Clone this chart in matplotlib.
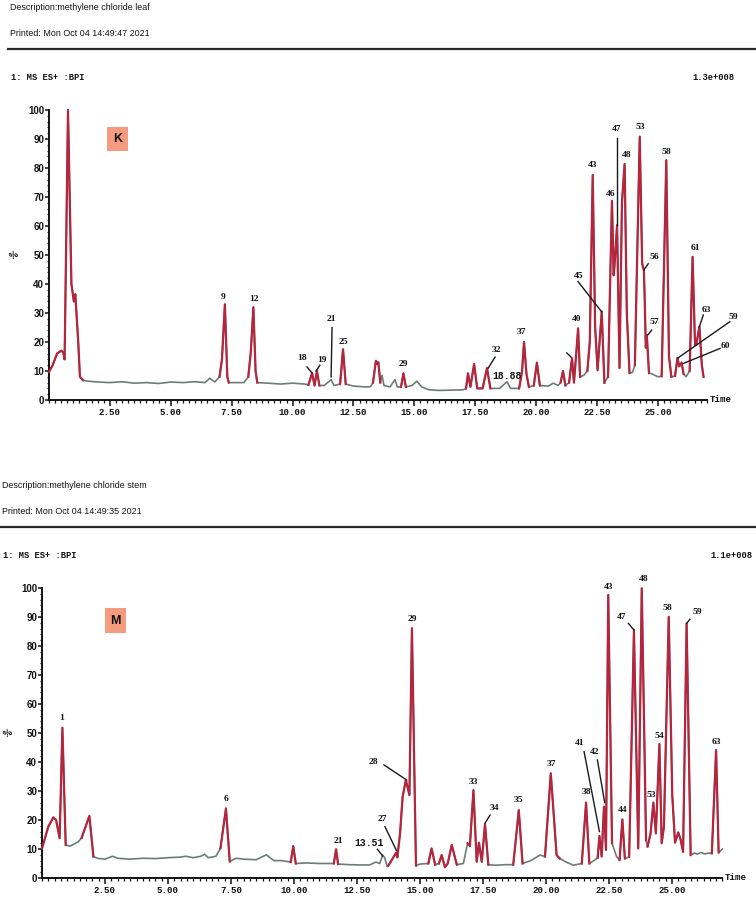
import matplotlib.pyplot as plt
import numpy as np
from matplotlib.ticker import MultipleLocator
from matplotlib.patches import Rectangle

# colours
C_RED = '#b3263d'
C_GREY = '#6e7c79'
C_INK = '#111111'
C_BOX = '#f59c80'

HEAD_FONT = ['Liberation Sans', 'DejaVu Sans']
MONO_FONT = ['Liberation Mono', 'DejaVu Sans Mono']
NUM_FONT = ['Liberation Serif', 'DejaVu Serif']

# ---- leaf chromatogram (K) : retention time (min), relative intensity (%)
leaf_t = [0.0, 0.15, 0.33, 0.5, 0.58, 0.64, 0.78, 0.92, 0.97, 1.02, 1.08, 1.2, 1.27, 1.4, 1.6,
          2.0, 2.5, 3.0, 3.5, 4.0, 4.5, 5.0, 5.5, 6.0, 6.4, 6.6, 6.8, 7.0, 7.1, 7.22, 7.32, 7.38,
          7.6, 8.0, 8.18, 8.28, 8.39, 8.48, 8.55, 9.0, 9.5, 10.0, 10.5, 10.65, 10.8, 10.9, 11.0,
          11.1, 11.3, 11.58, 11.7, 11.95, 12.07, 12.18, 12.5, 13.0, 13.2, 13.3, 13.42, 13.47,
          13.52, 13.6, 13.67, 13.75, 14.0, 14.2, 14.3, 14.45, 14.55, 14.65, 14.9, 15.1, 15.3,
          15.6, 16.0, 16.5, 17.0, 17.12, 17.2, 17.3, 17.45, 17.58, 17.8, 17.98, 18.12, 18.5,
          18.8, 18.95, 19.3, 19.42, 19.5, 19.6, 19.7, 19.9, 20.03, 20.15, 20.5, 20.7, 20.9,
          21.0, 21.1, 21.2, 21.35, 21.47, 21.55, 21.65, 21.72, 21.8, 21.95, 22.1, 22.2, 22.32,
          22.42, 22.52, 22.69, 22.8, 22.95, 23.11, 23.18, 23.22, 23.32, 23.42, 23.52, 23.63,
          23.72, 23.83, 23.95, 24.05, 24.25, 24.35, 24.42, 24.45, 24.5, 24.54, 24.63, 24.75,
          25.0, 25.15, 25.34, 25.45, 25.55, 25.7, 25.8, 25.87, 25.97, 26.05, 26.15, 26.3,
          26.42, 26.52, 26.57, 26.7, 26.8, 26.87]
leaf_i = [9.7, 12, 16, 17, 16.5, 14, 100, 40, 37, 34, 36.5, 20, 8, 6.8, 6.5,
          6.2, 6.0, 6.3, 5.8, 6.0, 5.7, 6.2, 6.0, 6.3, 6.0, 7.5, 6.2, 8, 14, 33, 8, 6,
          6, 6, 8, 16, 32, 10, 6, 5.8, 5.5, 5.8, 5.5, 5.2, 9.3, 5, 10,
          5, 5, 7, 5, 5.5, 17.5, 5.5, 4.8, 4.5, 4.6, 6, 13.5, 12.5,
          13, 6, 8.5, 5, 4.5, 7, 4.5, 4.5, 9.2, 4.5, 5, 6.5, 4.5,
          3.5, 3.3, 3.4, 3.5, 4, 9.2, 4.5, 12.4, 4, 4, 11, 4, 4,
          6.3, 4, 4, 10, 20, 9, 4.5, 5, 12.9, 5, 4.8, 5.8, 5,
          6, 10, 5, 6, 14.4, 6, 16.7, 24.7, 8, 8.5, 10, 20, 77.6,
          25, 10.3, 30.5, 5.9, 8, 68.7, 43, 47, 60.3, 11, 68, 81.4,
          30, 9.3, 9.5, 12, 90.8, 47, 44.8, 36.2, 18, 22.4, 9.3, 9,
          8, 8.2, 82.7, 15, 8, 8.3, 14.5, 11.6, 12.9, 9, 8, 10,
          49.4, 19, 19, 25.3, 12, 8]
leaf_red = [(0.0, 1.4), (7.0, 7.38), (8.18, 8.55), (10.65, 11.1), (11.95, 12.18),
            (13.3, 13.6), (14.45, 14.65), (17.12, 18.12), (19.3, 19.7), (19.9, 20.15),
            (21.0, 21.2), (21.35, 21.8), (22.1, 22.8), (22.95, 23.83), (24.05, 24.63),
            (25.15, 25.55), (25.7, 26.05), (26.3, 26.87)]
leaf_labels = ['9', '12', '18', '19', '21', '25', '29', '32', '37', '40', '43', '45', '46',
               '47', '48', '53', '56', '57', '58', '61', '63', '59', '60']
leaf_label_t = [7.15, 8.4, 10.4, 11.2, 11.58, 12.1, 14.55, 18.35, 19.4, 21.67, 22.32, 21.76,
                23.07, 23.3, 23.71, 24.26, 24.84, 24.84, 25.36, 26.55, 27.0, 28.1, 27.75]
leaf_label_i = [35.5, 34.8, 14.5, 13.8, 28, 20, 12.4, 17.2, 23.6, 28, 81, 42.9,
                71, 93.3, 84.5, 94.3, 49.4, 27, 85.6, 52.3, 31, 28.5, 18.7]
leaf_leaders = [(10.59, 11.4, 10.8, 9.3), (11.12, 12, 10.96, 10), (11.62, 25, 11.58, 8),
                (18.31, 14.8, 18.03, 11), (21.26, 16.2, 21.43, 14.8), (21.72, 40.8, 22.69, 30.4),
                (23.32, 90.2, 23.32, 60.3), (24.6, 47, 24.42, 44.8), (24.74, 24.1, 24.58, 22.4),
                (26.86, 29.3, 26.7, 25.3), (27.95, 27, 25.8, 14.4), (27.55, 17.8, 26.04, 12.6)]
leaf_marks = [('18.88', 18.8, 8.3)]

# ---- stem chromatogram (M)
stem_t = [0.0, 0.25, 0.45, 0.56, 0.7, 0.81, 0.94, 1.11, 1.3, 1.44, 1.57, 1.88, 2.04, 2.2, 2.5,
          2.8, 3.0, 3.5, 4.0, 4.5, 5.0, 5.5, 5.7, 6.0, 6.3, 6.45, 6.6, 6.9, 7.08, 7.3, 7.45,
          7.7, 8.0, 8.5, 8.9, 9.2, 9.5, 9.87, 9.97, 10.07, 10.5, 11.0, 11.5, 11.58, 11.67,
          11.75, 12.2, 12.6, 13.0, 13.25, 13.4, 13.52, 13.6, 13.7, 13.74, 13.9, 14.05, 14.1,
          14.21, 14.31, 14.44, 14.58, 14.68, 14.84, 15.0, 15.33, 15.46, 15.6, 15.75, 15.86,
          15.99, 16.1, 16.26, 16.46, 16.72, 16.89, 16.98, 17.12, 17.25, 17.34, 17.45, 17.58,
          17.71, 18.0, 18.4, 18.7, 18.92, 19.07, 19.4, 19.76, 19.96, 20.19, 20.42, 20.55,
          20.8, 21.08, 21.42, 21.59, 21.72, 21.94, 22.05, 22.12, 22.21, 22.3, 22.38, 22.47,
          22.62, 22.8, 22.92, 23.03, 23.13, 23.3, 23.49, 23.66, 23.8, 23.97, 24.03, 24.15,
          24.26, 24.36, 24.5, 24.59, 24.68, 24.87, 25.01, 25.12, 25.25, 25.34, 25.44, 25.58,
          25.74, 25.9, 26.0, 26.15, 26.3, 26.45, 26.58, 26.75, 26.85, 27.0]
stem_i = [10.2, 17.7, 20.9, 20, 13.7, 51.8, 11.4, 11, 11.8, 12.5, 13.8, 21.4, 7.4, 6.8, 6.5,
          7.5, 6.8, 6.5, 6.8, 6.7, 7.0, 7.2, 7.5, 7.0, 7.5, 8.2, 7, 7.5, 10.2, 24, 5.7,
          6.8, 6.5, 6.3, 8, 6, 6, 5.5, 11, 5, 5.2, 5.0, 5, 5, 9.9,
          4.8, 4.6, 4.5, 4.5, 5.5, 5, 7.9, 7, 3.9, 4.2, 6.5, 8.7, 7.1,
          15.5, 28, 33.8, 28.6, 86.1, 4.3, 4.8, 5, 10.2, 4.6, 5, 7.9,
          3.7, 5, 11.4, 4.6, 5, 12, 11, 30.3, 5.6, 12.2, 5.6, 18.6,
          4.6, 4.4, 4.6, 4.6, 23.4, 5, 6, 7.9, 7.4, 36.1, 7.9, 6.7,
          5.5, 4.4, 5, 26, 5, 6.2, 7, 14.5, 7.4, 24.6, 9.7, 97.6,
          12, 7.4, 6.2, 20.2, 6.7, 7.3, 85.5, 10.2, 99.9, 13, 10.8, 15.4,
          26, 15.4, 46.2, 12, 17.7, 90.1, 28.6, 12.2, 15.7, 13.3, 9, 87.8,
          7.9, 8.6, 8.2, 8.8, 8.3, 8.6, 8.5, 44.1, 8.8, 10]
stem_red = [(0.0, 0.94), (1.57, 2.04), (7.08, 7.45), (9.87, 10.07), (11.58, 11.75),
            (13.74, 14.84), (15.33, 15.6), (15.75, 16.46), (16.89, 17.71), (18.7, 19.07),
            (19.96, 20.55), (21.42, 21.72), (22.05, 22.62), (22.92, 23.13), (23.3, 23.97),
            (24.03, 25.74), (26.58, 26.85)]
stem_labels = ['1', '6', '21', '27', '28', '29', '33', '34', '35', '37', '38', '41', '42',
               '43', '44', '47', '48', '53', '54', '58', '59', '63']
stem_label_t = [0.78, 7.3, 11.76, 13.52, 13.15, 14.69, 17.12, 17.94, 18.92, 20.22, 21.59,
                21.35, 21.94, 22.49, 23.03, 23.0, 23.86, 24.19, 24.48, 24.83, 26.0, 26.77]
stem_label_i = [55, 27.1, 12.9, 20.3, 40.1, 89.2, 33, 24, 26.9, 39.2, 29.5,
                46.7, 43.6, 100.5, 23.4, 90.1, 103, 28.6, 49, 93, 91.8, 47]
stem_leaders = [(13.31, 9.9, 13.52, 7.6), (13.61, 17.7, 14.07, 9.4), (13.57, 39, 14.47, 33.8),
                (17.78, 21.7, 17.58, 18.9), (21.51, 43.6, 22.12, 16), (22.04, 40.7, 22.33, 26),
                (23.27, 87.8, 23.49, 85.5), (25.71, 89.2, 25.58, 87.8)]
stem_marks = [('13.51', 12.98, 12)]

x_major = [2.5, 5.0, 7.5, 10.0, 12.5, 15.0, 17.5, 20.0, 22.5, 25.0]
y_major = [0, 10, 20, 30, 40, 50, 60, 70, 80, 90, 100]

W, H = 756, 902
fig = plt.figure(figsize=(W / 100, H / 100), dpi=100, facecolor='white')


def fx(px):
    return px / W


def fy(py):
    return 1 - py / H


def header(top, left, line_left, desc, printed, scale_txt, scale_x, trace_y):
    fig.text(fx(left), fy(top), desc, fontsize=6.4, family=HEAD_FONT, color=C_INK,
             va='center')
    fig.text(fx(left), fy(top + 25), printed, fontsize=6.4, family=HEAD_FONT, color=C_INK,
             va='center')
    fig.add_artist(plt.Line2D([fx(line_left), fx(756)], [fy(top + 41), fy(top + 41)],
                              color='#2a2a2a', lw=1.6, transform=fig.transFigure))
    fig.text(fx(left + 1), fy(trace_y), '1: MS ES+ :BPI', fontsize=6.3, family=MONO_FONT,
             weight='bold', color=C_INK, va='center')
    fig.text(fx(scale_x), fy(trace_y), scale_txt, fontsize=6.3, family=MONO_FONT,
             weight='bold', color=C_INK, va='center')


def letter_box(x0, y0, w, h, letter):
    fig.add_artist(Rectangle((fx(x0), fy(y0 + h)), w / W, h / H, transform=fig.transFigure,
                             fc=C_BOX, ec='none'))
    fig.text(fx(x0 + w / 2), fy(y0 + h / 2), letter, fontsize=9, weight='bold',
             family=['Liberation Sans', 'DejaVu Sans'], ha='center', va='center', color=C_INK)


def panel(rect, t, inten, red, labels, lab_t, lab_i, leaders, marks, pct_xy):
    ax = fig.add_axes(rect)
    t = np.array(t)
    inten = np.array(inten)
    ax.plot(t, inten, color=C_GREY, lw=1.2, clip_on=False, zorder=2)
    for a, b in red:
        m = (t >= a - 1e-9) & (t <= b + 1e-9)
        ax.plot(t[m], inten[m], color=C_RED, lw=1.6, clip_on=False, zorder=3,
                solid_joinstyle='round')
    for s, x, y in zip(labels, lab_t, lab_i):
        ax.text(x, y, s, fontsize=6.8, family=NUM_FONT, weight='bold', ha='center',
                va='center', color=C_INK, clip_on=False)
    for x1, y1, x2, y2 in leaders:
        ax.plot([x1, x2], [y1, y2], color='#1a1a1a', lw=1.0, clip_on=False, zorder=4)
    for s, x, y in marks:
        ax.text(x, y, s, fontsize=7, family=MONO_FONT, weight='bold', ha='center',
                va='center', color=C_INK, clip_on=False)

    ax.set_xlim(0, 27)
    ax.set_ylim(0, 100)
    for side in ['top', 'right']:
        ax.spines[side].set_visible(False)
    for side in ['left', 'bottom']:
        ax.spines[side].set_color(C_INK)
        ax.spines[side].set_linewidth(1.4)
    ax.set_xticks(x_major)
    ax.set_xticklabels([f'{v:.2f}' for v in x_major], fontsize=6.6, family=MONO_FONT,
                       weight='bold')
    ax.set_yticks(y_major)
    ax.set_yticklabels([str(v) for v in y_major], fontsize=7,
                       family=['Liberation Sans', 'DejaVu Sans'], weight='bold')
    ax.xaxis.set_minor_locator(MultipleLocator(0.25))
    ax.yaxis.set_minor_locator(MultipleLocator(2))
    ax.tick_params(axis='x', which='major', length=4, width=1.1, pad=1.5, colors=C_INK)
    ax.tick_params(axis='x', which='minor', length=2.5, width=0.9, colors=C_INK)
    ax.tick_params(axis='y', which='major', length=3, width=1.1, pad=0.5, colors=C_INK)
    ax.tick_params(axis='y', which='minor', length=1.5, width=0.9, colors=C_INK)
    ax.set_facecolor('none')
    ax.text(1.004, 0, 'Time', transform=ax.transAxes, fontsize=6.6, family=MONO_FONT,
            weight='bold', ha='left', va='center', color=C_INK)
    fig.text(fx(pct_xy[0]), fy(pct_xy[1]), '%', fontsize=6, weight='bold', color=C_INK,
             ha='center', va='center', rotation=30)
    return ax


# leaf panel
header(8, 10, 8, 'Description:methylene chloride leaf', 'Printed: Mon Oct 04 14:49:47 2021',
       '1.3e+008', 692, 77)
panel([fx(49), fy(400), 27 * 24.36 / W, 290 / H], leaf_t, leaf_i, leaf_red, leaf_labels,
      leaf_label_t, leaf_label_i, leaf_leaders, leaf_marks, (14, 256))
letter_box(107, 127, 21, 24, 'K')

# stem panel
header(486, 2, 0, 'Description:methylene chloride stem', 'Printed: Mon Oct 04 14:49:35 2021',
       '1.1e+008', 710, 556)
panel([fx(42), fy(878), 27 * 25.2 / W, 290 / H], stem_t, stem_i, stem_red, stem_labels,
      stem_label_t, stem_label_i, stem_leaders, stem_marks, (8, 734))
letter_box(105, 608, 21, 25, 'M')

fig.savefig('out.png', dpi=100, facecolor='white')
